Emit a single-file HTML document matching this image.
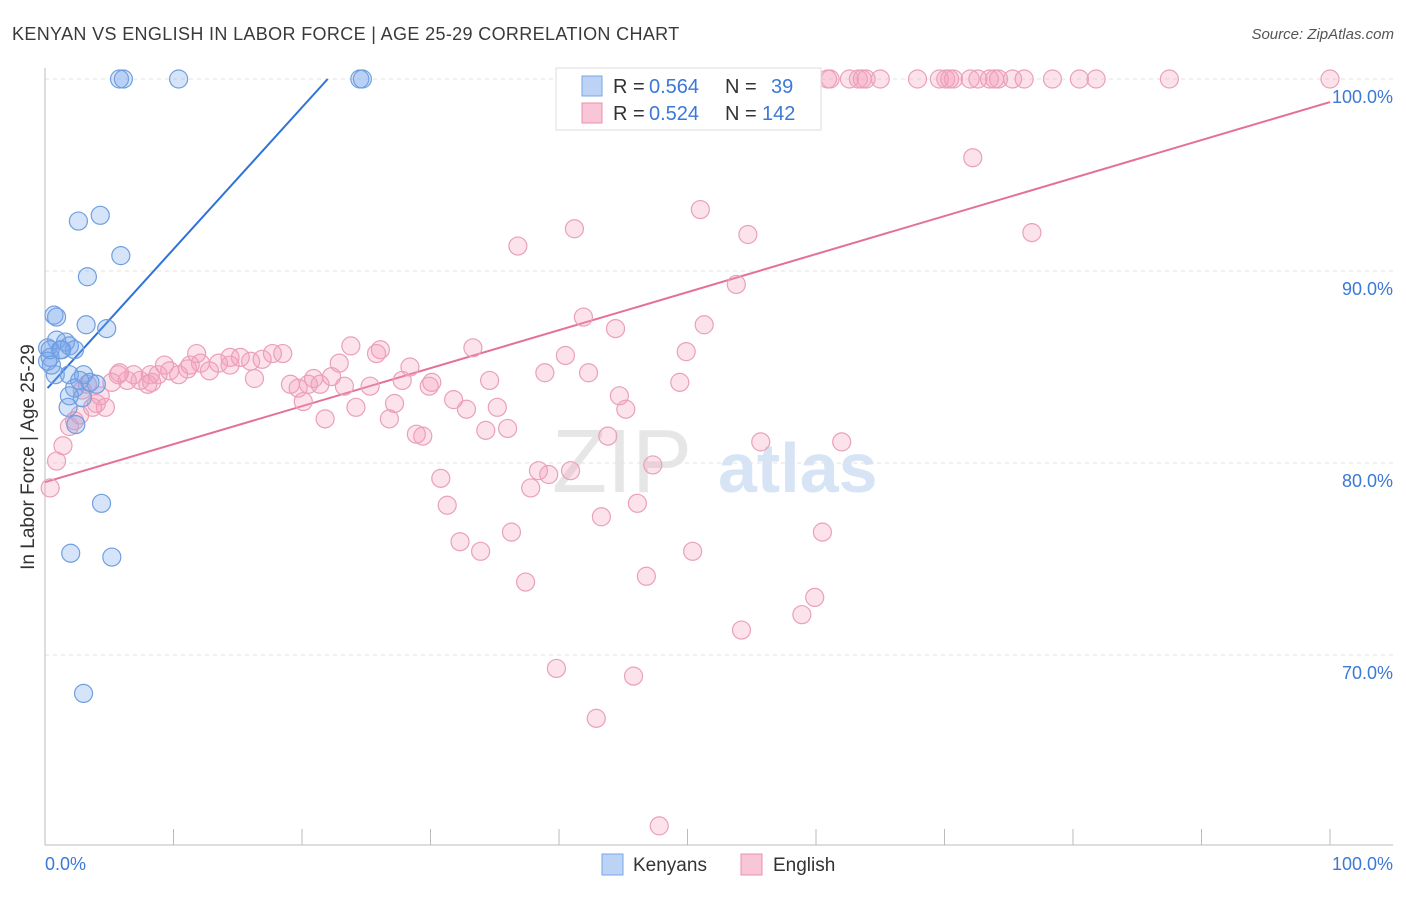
<!DOCTYPE html>
<html><head><meta charset="utf-8"><style>
body{margin:0;background:#fff;font-family:"Liberation Sans",sans-serif}
svg text{font-family:"Liberation Sans",sans-serif}
</style></head><body>
<svg id="chart" width="1406" height="892" xmlns="http://www.w3.org/2000/svg">
<text x="12" y="40" font-size="18" fill="#3a3a3a" letter-spacing="0.35">KENYAN VS ENGLISH IN LABOR FORCE | AGE 25-29 CORRELATION CHART</text>
<text x="1394" y="39" font-size="15" fill="#555" text-anchor="end" font-style="italic">Source: ZipAtlas.com</text>
<g>
<text x="552" y="492" font-size="90" fill="#e6e6e6" font-family="Liberation Serif">ZIP</text>
<text x="718" y="492" font-size="70" fill="#d6e4f5" font-weight="bold">atlas</text>
</g>
<g id="grid"></g><g id="axes"></g><g id="lines"></g><g id="pts"></g>
<g>
<rect x="556" y="68" width="265" height="62" fill="#fff" stroke="#ddd"/>
<rect x="582" y="76" width="20" height="20" fill="#bcd3f5" stroke="#7aa6e6"/>
<text x="613" y="93" font-size="20" fill="#333">R =</text>
<text x="649" y="93" font-size="20" fill="#3b78d8">0.564</text>
<text x="725" y="93" font-size="20" fill="#333">N =</text>
<text x="771" y="93" font-size="20" fill="#3b78d8">39</text>
<rect x="582" y="103" width="20" height="20" fill="#f8c6d6" stroke="#e890ad"/>
<text x="613" y="120" font-size="20" fill="#333">R =</text>
<text x="649" y="120" font-size="20" fill="#3b78d8">0.524</text>
<text x="725" y="120" font-size="20" fill="#333">N =</text>
<text x="762" y="120" font-size="20" fill="#3b78d8">142</text>
</g>
<g>
<rect x="602" y="854" width="21" height="21" fill="#bcd3f5" stroke="#7aa6e6"/>
<text x="633" y="871" font-size="19" fill="#333">Kenyans</text>
<rect x="741" y="854" width="21" height="21" fill="#f8c6d6" stroke="#e890ad"/>
<text x="773" y="871" font-size="19" fill="#333">English</text>
</g>
<text transform="translate(34,457) rotate(-90)" font-size="19" fill="#333" text-anchor="middle">In Labor Force | Age 25-29</text>
</svg>
<script>
const yTicks=[100,90,80,70];
const yTickLabels=["100.0%","90.0%","80.0%","70.0%"];
const xTicks=[0,10,20,30,40,50,60,70,80,90,100];
const xAxisLabels=["0.0%","100.0%"];
const kenX=[5.8,6.1,10.4,24.5,24.7,2.6,4.3,5.9,3.3,0.7,0.9,3.2,4.8,0.9,1.6,0.2,1.2,2.3,1.9,0.4,0.2,0.8,1.9,3.0,2.7,3.5,4.0,2.3,2.9,1.9,1.8,2.4,4.4,2.0,5.2,3.0,0.4,0.5,1.3];
const kenY=[100,100,100,100,100,92.6,92.9,90.8,89.7,87.7,87.6,87.2,87.0,86.4,86.3,86.0,85.9,85.9,86.1,85.5,85.3,84.6,84.6,84.6,84.3,84.2,84.1,83.9,83.4,83.5,82.9,82.0,77.9,75.3,75.1,68.0,85.9,85.1,85.9];
const engX=[48.5,52.2,55.3,55.6,57.5,60.9,61.1,62.6,63.3,63.6,63.9,65.0,67.9,69.6,70.1,70.4,70.7,72.0,72.6,73.5,73.9,74.2,75.3,76.2,78.4,80.5,81.8,87.5,100,
72.2,51.0,41.2,54.7,76.8,36.8,53.8,41.9,44.4,51.3,49.9,40.5,33.3,26.1,23.8,22.9,25.8,28.4,18.5,17.7,16.9,16.0,15.2,14.4,13.5,12.8,12.1,11.8,11.1,10.4,9.7,9.3,8.8,8.2,7.4,6.9,6.4,5.7,5.2,5.8,8.0,8.3,16.3,19.1,19.7,20.5,20.9,21.4,22.3,23.3,25.3,27.8,30.1,29.9,34.6,38.9,42.3,49.4,20.1,21.8,24.2,26.8,27.2,31.8,32.8,35.2,36.0,34.3,28.9,29.4,44.7,45.2,43.8,55.7,62.0,47.3,30.8,31.3,38.4,39.2,40.9,37.8,32.3,33.9,36.3,43.3,46.1,50.4,60.5,37.4,46.8,59.9,58.9,54.2,39.8,45.8,42.9,47.8,0.4,0.9,1.4,1.9,2.3,2.7,4.0,4.7,3.7,4.3,2.9,3.3,14.4,11.3];
const engY=[100,100,100,100,100,100,100,100,100,100,100,100,100,100,100,100,100,100,100,100,100,100,100,100,100,100,100,100,100,
95.9,93.2,92.2,91.9,92.0,91.3,89.3,87.6,87.0,87.2,85.8,85.6,86.0,85.9,86.1,85.2,85.7,85.0,85.7,85.7,85.4,85.3,85.5,85.5,85.2,84.8,85.2,85.7,84.9,84.6,84.8,85.1,84.6,84.6,84.3,84.6,84.3,84.6,84.2,84.7,84.1,84.2,84.4,84.1,83.9,84.1,84.4,84.1,84.5,84.0,84.0,84.3,84.2,84.0,84.3,84.7,84.7,84.2,83.2,82.3,82.9,82.3,83.1,83.3,82.8,82.9,81.8,81.7,81.5,81.4,83.5,82.8,81.4,81.1,81.1,79.9,79.2,77.8,79.6,79.4,79.6,78.7,75.9,75.4,76.4,77.2,77.9,75.4,76.4,73.8,74.1,73.0,72.1,71.3,69.3,68.9,66.7,61.1,78.7,80.1,80.9,81.9,82.2,82.5,83.1,82.9,82.9,83.5,83.8,84.1,85.1,85.1];
const kenTrend=[0.2,83.9,22.0,100];
const engTrend=[0,79.0,100,98.8];
const NS="http://www.w3.org/2000/svg";
const sx=v=>45+v*12.85, sy=v=>79+(100-v)*19.2;
function mk(tag,attrs,parent){const e=document.createElementNS(NS,tag);for(const k in attrs)e.setAttribute(k,attrs[k]);document.getElementById(parent).appendChild(e);return e;}
yTicks.forEach((t,i)=>{
 const l=mk('line',{x1:45,x2:1393,y1:sy(t),y2:sy(t),stroke:'#e2e2e2','stroke-dasharray':'4,4'},'grid');
 
 
 const tx=mk('text',{x:1393,y:sy(t)+24,'font-size':18,fill:'#3b78d8','text-anchor':'end'},'grid');
 tx.textContent=yTickLabels[i];
 
 
});
let a=mk('line',{x1:45,x2:45,y1:68,y2:845,stroke:'#bbb'},'axes');


a=mk('line',{x1:45,x2:1393,y1:845,y2:845,stroke:'#bbb'},'axes');


xTicks.forEach(t=>{const l=mk('line',{x1:sx(t),x2:sx(t),y1:829,y2:845,stroke:'#bbb'},'axes');
 
 });
let t0=mk('text',{x:45,y:870,'font-size':18,fill:'#3b78d8'},'axes');t0.textContent=xAxisLabels[0];


t0=mk('text',{x:1393,y:870,'font-size':18,fill:'#3b78d8','text-anchor':'end'},'axes');t0.textContent=xAxisLabels[1];


function pts(X,Y,fill,stroke,name){X.forEach((x,i)=>{const c=mk('circle',{cx:sx(x),cy:sy(Y[i]),r:9,fill:fill,stroke:stroke,'stroke-width':1.2},'pts');
 
 });}
pts(engX,engY,'rgba(244,160,188,0.3)','#eaa0b9','english-point');
pts(kenX,kenY,'rgba(120,165,235,0.3)','#6f9fe0','kenyan-point');
let ln=mk('line',{x1:sx(kenTrend[0]),y1:sy(kenTrend[1]),x2:sx(kenTrend[2]),y2:sy(kenTrend[3]),stroke:'#2f73d9','stroke-width':2},'lines');


ln=mk('line',{x1:sx(engTrend[0]),y1:sy(engTrend[1]),x2:sx(engTrend[2]),y2:sy(engTrend[3]),stroke:'#e4709a','stroke-width':2},'lines');


</script>
</body></html>
